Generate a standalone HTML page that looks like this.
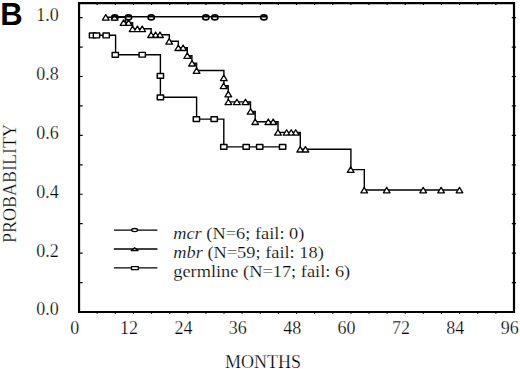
<!DOCTYPE html>
<html><head><meta charset="utf-8"><title>Kaplan-Meier plot</title>
<style>html,body{margin:0;padding:0;background:#fff;width:520px;height:369px;overflow:hidden;font-family:"Liberation Serif",serif}svg{display:block}</style>
</head><body>
<svg width="520" height="369" viewBox="0 0 520 369">
<rect width="520" height="369" fill="#fff"/>
<path d="M79.05 3.2H514V312H79.05Z" fill="none" stroke="#000" stroke-width="2.2"/>
<path d="M80.05 282.56h2.6M511.8 282.56h4.2M80.05 253.12h2.6M511.8 253.12h4.2M80.05 223.68h2.6M511.8 223.68h4.2M80.05 194.24h2.6M511.8 194.24h4.2M80.05 164.8h2.6M511.8 164.8h4.2M80.05 135.36h2.6M511.8 135.36h4.2M80.05 105.92h2.6M511.8 105.92h4.2M80.05 76.48h2.6M511.8 76.48h4.2M80.05 47.04h2.6M511.8 47.04h4.2M80.05 17.6h2.6M511.8 17.6h4.2M97.17 312v1.7M97.17 3.2v1.9M115.3 312v1.7M115.3 3.2v1.9M133.42 312v1.7M133.42 3.2v1.9M151.54 312v1.7M151.54 3.2v1.9M169.66 312v1.7M169.66 3.2v1.9M187.79 312v1.7M187.79 3.2v1.9M205.91 312v1.7M205.91 3.2v1.9M224.03 312v1.7M224.03 3.2v1.9M242.16 312v1.7M242.16 3.2v1.9M260.28 312v1.7M260.28 3.2v1.9M278.4 312v1.7M278.4 3.2v1.9M296.52 312v1.7M296.52 3.2v1.9M314.65 312v1.7M314.65 3.2v1.9M332.77 312v1.7M332.77 3.2v1.9M350.89 312v1.7M350.89 3.2v1.9M369.02 312v1.7M369.02 3.2v1.9M387.14 312v1.7M387.14 3.2v1.9M405.26 312v1.7M405.26 3.2v1.9M423.39 312v1.7M423.39 3.2v1.9M441.51 312v1.7M441.51 3.2v1.9M459.63 312v1.7M459.63 3.2v1.9M477.75 312v1.7M477.75 3.2v1.9M495.88 312v1.7M495.88 3.2v1.9" fill="none" stroke="#000" stroke-width="1.2"/>
<g fill="none" stroke="#000" stroke-width="1.4">
<path d="M92.55 35.3H115.6V54.8H160.4V97.3H196.6V119.1H223.8V146.9H282.6"/>
<path d="M105.75 17.3H125.6V22.6H132.6V28.75H151.1V34.7H169.3V41.3H178.3V47.7H187.3V55.6H191.9V63.2H196.6V70.5H223.9V77.8H223.9V85.8H228.2V94H228.2V101.9H250.5V111.4H255.2V121.7H278V132.4H300.3V149.2H350.9V169.6H364.3V190H459.5"/>
</g>
<path d="M130.4 22.6h2.2v2.8h-2.2zM185.1 47.7h2.2v2.8h-2.2zM189.7 55.6h2.2v2.8h-2.2zM194.4 63.2h2.2v2.8h-2.2zM226 85.8h2.2v2.8h-2.2zM248.3 101.9h2.2v2.8h-2.2zM253 111.4h2.2v2.8h-2.2zM275.8 121.7h2.2v2.8h-2.2zM298.1 132.4h2.2v2.8h-2.2z" fill="#222"/>
<g fill="#fff" stroke="#000" stroke-width="1.45" stroke-linejoin="round">
<rect x="89.4" y="33.05" width="6.3" height="4.8"/>
<rect x="93.35" y="33.05" width="6.3" height="4.8"/>
<rect x="103.05" y="33.05" width="6.3" height="4.8"/>
<rect x="112.15" y="52.45" width="6.3" height="4.8"/>
<rect x="139.1" y="52.35" width="6.3" height="4.8"/>
<rect x="157.25" y="73.5" width="6.3" height="4.8"/>
<rect x="157.25" y="94.9" width="6.3" height="4.8"/>
<rect x="193.25" y="116.7" width="6.3" height="4.8"/>
<rect x="211.05" y="116.7" width="6.3" height="4.8"/>
<rect x="220.65" y="144.5" width="6.3" height="4.8"/>
<rect x="243.05" y="144.5" width="6.3" height="4.8"/>
<rect x="256.55" y="144.5" width="6.3" height="4.8"/>
<rect x="279.45" y="144.5" width="6.3" height="4.8"/>
</g>
<g fill="#fff" stroke="#000" stroke-width="1.6">
<ellipse cx="114.85" cy="17.4" rx="3.15" ry="2.5"/>
<ellipse cx="128.5" cy="17.4" rx="3.15" ry="2.5"/>
<ellipse cx="151.2" cy="17.4" rx="3.15" ry="2.5"/>
<ellipse cx="205.8" cy="17.4" rx="3.15" ry="2.5"/>
<ellipse cx="214.85" cy="17.4" rx="3.15" ry="2.5"/>
<ellipse cx="263.9" cy="17.4" rx="3.15" ry="2.5"/>
</g>
<g fill="#fff" stroke="#000" stroke-width="1.3" stroke-linejoin="round">
<path d="M105.75 14.65L109.1 20.1H102.4ZM114.6 14.65L117.95 20.1H111.25ZM123.6 19.95L126.95 25.4H120.25ZM128.6 19.95L131.95 25.4H125.25ZM132.6 26.1L135.95 31.55H129.25ZM137.4 26.1L140.75 31.55H134.05ZM142.2 26.1L145.55 31.55H138.85ZM151.1 32.05L154.45 37.5H147.75ZM155.6 32.05L158.95 37.5H152.25ZM160 32.05L163.35 37.5H156.65ZM169.2 38.65L172.55 44.1H165.85ZM178.3 45.05L181.65 50.5H174.95ZM183.1 45.05L186.45 50.5H179.75ZM187.3 52.95L190.65 58.4H183.95ZM192 60.55L195.35 66H188.65ZM196.6 67.85L199.95 73.3H193.25ZM223.8 75.15L227.15 80.6H220.45ZM223.6 83.15L226.95 88.6H220.25ZM228.3 91.35L231.65 96.8H224.95ZM228.4 99.25L231.75 104.7H225.05ZM236.9 99.25L240.25 104.7H233.55ZM245.5 99.25L248.85 104.7H242.15ZM250.6 108.75L253.95 114.2H247.25ZM255.2 119.05L258.55 124.5H251.85ZM268.3 119.05L271.65 124.5H264.95ZM273.2 119.05L276.55 124.5H269.85ZM278 129.75L281.35 135.2H274.65ZM286.6 129.75L289.95 135.2H283.25ZM291.2 129.75L294.55 135.2H287.85ZM295.7 129.75L299.05 135.2H292.35ZM300.2 146.55L303.55 152H296.85ZM305.4 146.55L308.75 152H302.05ZM350.7 166.95L354.05 172.4H347.35ZM364.2 187.35L367.55 192.8H360.85ZM386.7 187.35L390.05 192.8H383.35ZM423.2 187.35L426.55 192.8H419.85ZM441.1 187.35L444.45 192.8H437.75ZM459.5 187.35L462.85 192.8H456.15Z"/>
</g>
<path d="M111.5 16.8H266.5" stroke="#000" stroke-width="1.4"/>
<g fill="none" stroke="#000" stroke-width="1.3">
<path d="M113.9 230.1H157.4"/>
<path d="M113.9 249.0H157.4"/>
<path d="M113.9 267.9H157.4"/>
</g>
<g fill="#fff" stroke="#000" stroke-width="1.3" stroke-linejoin="round">
<ellipse cx="134.65" cy="230.05" rx="2.95" ry="1.55"/>
<path d="M134.6 247.7L138 250.5H131.2Z"/>
<rect x="131.5" y="266.7" width="6.8" height="3"/>
</g>
<g font-family="'Liberation Serif', serif" font-size="18" fill="#000" stroke="#fff" stroke-width="0.25">
<text x="58.8" y="20.5" text-anchor="end">1.0</text>
<text x="58.8" y="79.8" text-anchor="end">0.8</text>
<text x="58.8" y="139.4" text-anchor="end">0.6</text>
<text x="58.8" y="197.6" text-anchor="end">0.4</text>
<text x="58.8" y="257.2" text-anchor="end">0.2</text>
<text x="58.8" y="315.1" text-anchor="end">0.0</text>
<text x="74.75" y="333.8" text-anchor="middle">0</text>
<text x="129.12" y="333.8" text-anchor="middle">12</text>
<text x="183.49" y="333.8" text-anchor="middle">24</text>
<text x="237.86" y="333.8" text-anchor="middle">36</text>
<text x="292.22" y="333.8" text-anchor="middle">48</text>
<text x="346.59" y="333.8" text-anchor="middle">60</text>
<text x="400.96" y="333.8" text-anchor="middle">72</text>
<text x="455.33" y="333.8" text-anchor="middle">84</text>
<text x="509.7" y="333.8" text-anchor="middle">96</text>
<text x="263" y="368.1" text-anchor="middle">MONTHS</text>
<text transform="translate(15.6 183.5) rotate(-90)" text-anchor="middle">PROBABILITY</text>
</g>
<g font-family="'Liberation Serif', serif" font-size="17" fill="#000" stroke="#fff" stroke-width="0.2">
<g transform="translate(173.2 0) scale(1.08 1)">
<text x="0" y="238.7"><tspan font-style="italic">mcr</tspan> (N=6; fail: 0)</text>
<text x="0" y="257.8"><tspan font-style="italic">mbr</tspan> (N=59; fail: 18)</text>
<text x="0" y="276.9">germline (N=17; fail: 6)</text>
</g>
</g>
<text x="0.2" y="25.3" font-family="'Liberation Sans', sans-serif" font-weight="bold" font-size="31" fill="#000">B</text>
</svg>
</body></html>
